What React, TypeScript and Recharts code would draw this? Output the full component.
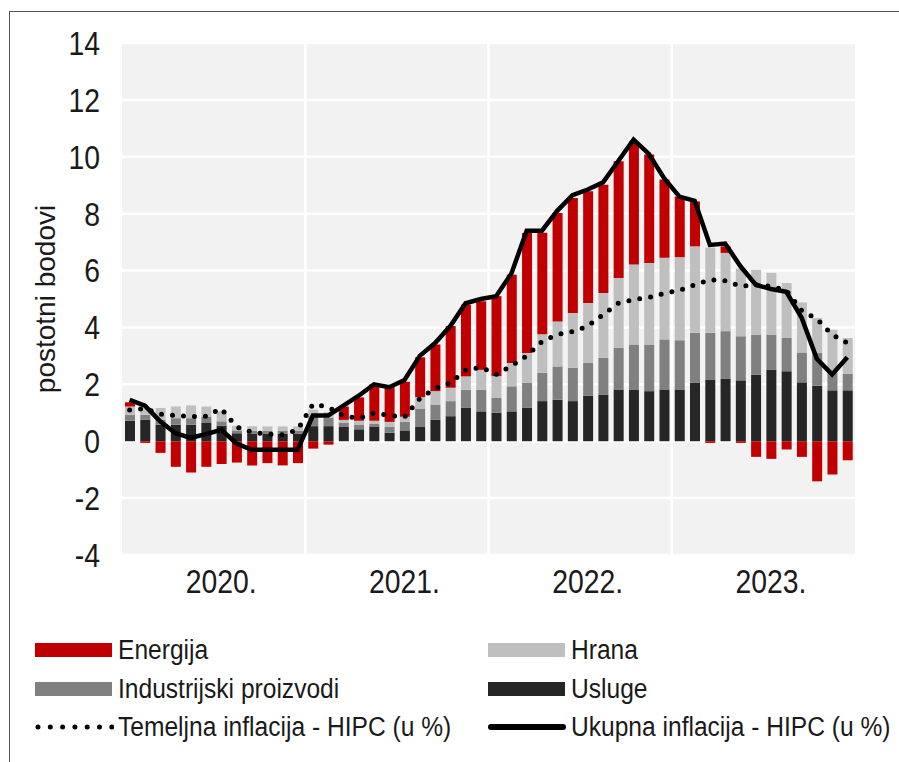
import React from "react";
import {
  Bar,
  CartesianGrid,
  ComposedChart,
  Line,
  XAxis,
  YAxis,
} from "recharts";

const years = ["2020", "2021", "2022", "2023"];
const months = years.flatMap((y) =>
  ["01", "02", "03", "04", "05", "06", "07", "08", "09", "10", "11", "12"].map((m) => `${y}-${m}`)
);

const usluge = [
  0.72, 0.75, 0.58, 0.58, 0.58, 0.64, 0.55, 0.28, 0.27, 0.27, 0.26, 0.27,
  0.53, 0.53, 0.5, 0.42, 0.52, 0.3, 0.38, 0.5, 0.76, 0.88, 1.17, 1.05,
  1.0, 1.05, 1.17, 1.41, 1.46, 1.41, 1.6, 1.64, 1.82, 1.82, 1.76, 1.82,
  1.82, 2.05, 2.17, 2.19, 2.14, 2.34, 2.52, 2.46, 2.07, 1.95, 1.79, 1.79,
];
const industrija = [
  0.2, 0.18, 0.18, 0.23, 0.23, 0.23, 0.15, 0.1, 0.1, 0.1, 0.1, 0.1,
  0.35, 0.29, 0.15, 0.15, 0.1, 0.2, 0.3, 0.65, 0.53, 0.53, 0.64, 0.76,
  0.53, 0.88, 0.88, 1.0, 1.17, 1.17, 1.15, 1.29, 1.46, 1.58, 1.64, 1.76,
  1.73, 1.76, 1.64, 1.68, 1.55, 1.41, 1.23, 1.17, 1.05, 1.15, 0.61, 0.58,
];
const hrana = [
  0.3, 0.25, 0.41, 0.41, 0.45, 0.35, 0.35, 0.16, 0.16, 0.15, 0.16, 0.15,
  0.23, 0.2, 0.1, 0.15, 0.1, 0.18, 0.18, 0.4, 0.47, 0.47, 0.47, 0.7,
  0.76, 0.82, 1.05, 1.35, 1.58, 1.93, 2.11, 2.28, 2.46, 2.81, 2.87, 2.87,
  2.92, 3.04, 3.0, 2.75, 2.38, 2.28, 2.17, 1.93, 1.76, 1.23, 1.52, 1.26,
];
const energija = [
  0.15, -0.06, -0.41, -0.9, -1.1, -0.9, -0.8, -0.75, -0.85, -0.77, -0.85, -0.77,
  -0.26, -0.12, 0.47, 0.82, 1.28, 1.22, 1.23, 1.4, 1.64, 2.17, 2.52, 2.41,
  2.81, 3.1, 4.22, 3.57, 3.81, 4.04, 3.93, 3.81, 4.1, 4.34, 3.81, 2.75,
  2.13, 1.58, -0.06, 0.23, -0.06, -0.55, -0.62, -0.29, -0.55, -1.41, -1.17, -0.67,
];
const temeljna = [
  1.1, 1.15, 0.95, 0.9, 0.87, 0.88, 1.15, 0.5, 0.32, 0.25, 0.23, 0.4,
  1.3, 1.2, 0.9, 0.8, 1.0, 0.9, 0.85, 1.5, 1.85, 2.05, 2.5, 2.6,
  2.35, 2.65, 3.0, 3.5, 3.75, 3.85, 4.05, 4.45, 4.85, 4.98, 5.05, 5.2,
  5.3, 5.5, 5.68, 5.64, 5.45, 5.5, 5.45, 5.3, 4.6, 4.3, 3.75, 3.45,
];
const ukupna = [
  1.45, 1.25, 0.7, 0.28, 0.12, 0.25, 0.4, -0.08, -0.3, -0.3, -0.3, -0.3,
  0.9, 0.9, 1.25, 1.6, 2.0, 1.9, 2.15, 3.0, 3.45, 4.05, 4.85, 5.0,
  5.1, 5.9, 7.4, 7.4, 8.1, 8.65, 8.85, 9.1, 9.85, 10.6, 10.1, 9.25,
  8.6, 8.45, 6.9, 6.95, 6.15, 5.5, 5.35, 5.25, 4.35, 2.9, 2.35, 2.95,
];
const yTicks = [-4, -2, 0, 2, 4, 6, 8, 10, 12, 14];
const yearTicks = years.map((y) => `${y}-07`);

const data = months.map((month, i) => ({
  month,
  usluge: usluge[i],
  industrija: industrija[i],
  hrana: hrana[i],
  energija: energija[i],
  temeljna: temeljna[i],
  ukupna: ukupna[i],
}));

const FONT = '"Liberation Sans", Arial, sans-serif';
const TEXT = "#1a1a1a";

const legendRows = [
  [
    { label: "Energija", kind: "bar", color: "#c00000" },
    { label: "Hrana", kind: "bar", color: "#bfbfbf" },
  ],
  [
    { label: "Industrijski proizvodi", kind: "bar", color: "#808080" },
    { label: "Usluge", kind: "bar", color: "#262626" },
  ],
  [
    { label: "Temeljna inflacija - HIPC (u %)", kind: "dots", color: "#000" },
    { label: "Ukupna inflacija - HIPC (u %)", kind: "line", color: "#000" },
  ],
];

// narrow-looking tick text (the original uses a condensed face)
function CondTick({ x, y, payload, axis }: any) {
  const v = payload.value;
  const label = axis === "x" ? `${String(v).slice(0, 4)}.` : String(v);
  return (
    <text
      transform={`translate(${x},${y}) scale(0.86,1)`}
      textAnchor={axis === "x" ? "middle" : "end"}
      dy={axis === "x" ? "0.71em" : "0.36em"}
      fill={TEXT}
      fontSize={33}
      fontFamily={FONT}
    >
      {label}
    </text>
  );
}

function Swatch({ kind, color }: { kind: string; color: string }) {
  return (
    <svg width={80} height={20} style={{ display: "block" }}>
      {kind === "bar" && <rect x={1} y={3} width={77} height={14} fill={color} />}
      {kind === "line" && (
        <line x1={4} y1={10} x2={76} y2={10} stroke={color} strokeWidth={6} strokeLinecap="round" />
      )}
      {kind === "dots" && (
        <line
          x1={4}
          y1={10}
          x2={78}
          y2={10}
          stroke={color}
          strokeWidth={5}
          strokeLinecap="round"
          strokeDasharray="0 12.3"
        />
      )}
    </svg>
  );
}

export default function App() {
  return (
    <div style={{ position: "relative", width: 899, height: 762, background: "#fff", fontFamily: FONT }}>
      <style>{`body{margin:0}`}</style>
      <div
        style={{
          position: "absolute",
          left: 9,
          top: 11,
          right: 0,
          bottom: 0,
          borderTop: "1.5px solid #555",
          borderLeft: "1.5px solid #555",
        }}
      />
      <div style={{ position: "absolute", left: 0, top: 0 }}>
        <ComposedChart
          width={899}
          height={620}
          data={data}
          stackOffset="sign"
          barSize={10}
          margin={{ top: 43, right: 44, bottom: 0, left: 0 }}
        >
          <CartesianGrid
            fill="#f2f2f2"
            stroke="#ffffff"
            strokeWidth={2.5}
            verticalCoordinatesGenerator={({ offset }: any) =>
              [12, 24, 36].map((i) => offset.left + (offset.width * i) / months.length)
            }
          />
          <XAxis
            dataKey="month"
            ticks={yearTicks}
            interval={0}
            axisLine={false}
            tickLine={false}
            tickSize={0}
            tickMargin={15}
            height={65}
            tick={<CondTick axis="x" />}
          />
          <YAxis
            domain={[-4, 14]}
            ticks={yTicks}
            interval={0}
            width={122}
            axisLine={false}
            tickLine={false}
            tickSize={0}
            tickMargin={22}
            tick={<CondTick axis="y" />}
            label={{
              value: "postotni bodovi",
              angle: -90,
              position: "center",
              dx: -16,
              style: { fill: TEXT, fontSize: 28, fontFamily: FONT },
            }}
          />
          <Bar dataKey="usluge" stackId="s" fill="#262626" isAnimationActive={false} />
          <Bar dataKey="industrija" stackId="s" fill="#808080" isAnimationActive={false} />
          <Bar dataKey="hrana" stackId="s" fill="#bfbfbf" isAnimationActive={false} />
          <Bar dataKey="energija" stackId="s" fill="#c00000" isAnimationActive={false} />
          <Line
            type="linear"
            dataKey="ukupna"
            stroke="#000"
            strokeWidth={4.5}
            dot={false}
            activeDot={false}
            isAnimationActive={false}
          />
          <Line
            type="linear"
            dataKey="temeljna"
            stroke="#000"
            strokeWidth={5}
            strokeLinecap="round"
            strokeDasharray="0 11"
            dot={false}
            activeDot={false}
            isAnimationActive={false}
          />
        </ComposedChart>
      </div>
      {legendRows.map((row, r) =>
        row.map((item, c) => (
          <div
            key={`${r}-${c}`}
            style={{
              position: "absolute",
              left: c === 0 ? 34 : 487,
              top: 633 + r * 38.5,
              display: "flex",
              alignItems: "center",
              gap: 4,
              fontSize: 27,
              color: TEXT,
              lineHeight: "34px",
              whiteSpace: "nowrap",
            }}
          >
            <Swatch kind={item.kind} color={item.color} />
            <span style={{ display: "inline-block", transform: "scaleX(0.91)", transformOrigin: "0 50%" }}>
              {item.label}
            </span>
          </div>
        ))
      )}
    </div>
  );
}
